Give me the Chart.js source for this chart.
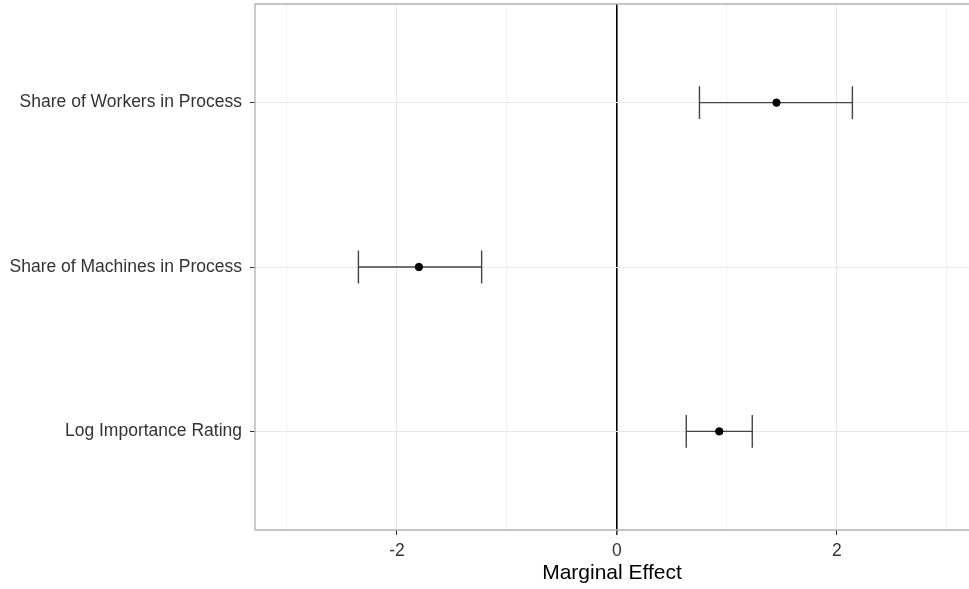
<!DOCTYPE html>
<html>
<head>
<meta charset="utf-8">
<script src="https://cdn.jsdelivr.net/npm/chart.js@4"></script>
<style>
  html, body { margin: 0; padding: 0; background: #fff; }
  #wrap { width: 969px; height: 589px; }
</style>
</head>
<body>
<div id="wrap"><canvas id="effects"></canvas></div>
<script>
const categories = ['Share of Workers in Process', 'Share of Machines in Process', 'Log Importance Rating'];
const positions = [3, 2, 1];
const estimates = [1.45, -1.80, 0.93];
const lower = [0.75, -2.35, 0.63];
const upper = [2.14, -1.23, 1.23];
const xMajorTicks = [-2, 0, 2];
const xMinorTicks = [-3, -1, 1, 3];

const FONT = "'Liberation Sans', Arial, sans-serif";

const errorBars = {
  id: 'errorBars',
  beforeDatasetsDraw(chart) {
    const { ctx, scales: { x, y } } = chart;
    ctx.save();
    ctx.strokeStyle = '#444';
    ctx.lineWidth = 1.4;
    positions.forEach((pos, i) => {
      const py = y.getPixelForValue(pos);
      const cap = Math.abs(y.getPixelForValue(pos + 0.1) - py);
      const x0 = x.getPixelForValue(lower[i]);
      const x1 = x.getPixelForValue(upper[i]);
      ctx.beginPath();
      ctx.moveTo(x0, py); ctx.lineTo(x1, py);
      ctx.moveTo(x0, py - cap); ctx.lineTo(x0, py + cap);
      ctx.moveTo(x1, py - cap); ctx.lineTo(x1, py + cap);
      ctx.stroke();
    });
    ctx.restore();
  },
  afterDraw(chart) {
    // panel border; the right edge runs off the canvas in the original
    const { ctx, chartArea: a } = chart;
    ctx.save();
    ctx.strokeStyle = '#b3b3b3';
    ctx.lineWidth = 1.3;
    ctx.beginPath();
    ctx.moveTo(a.right + 2, a.top);
    ctx.lineTo(a.left, a.top);
    ctx.lineTo(a.left, a.bottom);
    ctx.lineTo(a.right + 2, a.bottom);
    ctx.stroke();
    ctx.restore();
  }
};

new Chart(document.getElementById('effects'), {
  type: 'scatter',
  data: {
    datasets: [{
      data: positions.map((p, i) => ({ x: estimates[i], y: p })),
      backgroundColor: '#000',
      borderColor: '#000',
      pointRadius: 3.7,
      pointHoverRadius: 3.7,
    }],
  },
  options: {
    responsive: true,
    maintainAspectRatio: false,
    animation: false,
    layout: { autoPadding: false, padding: { top: 4, left: 0, right: 0, bottom: 0 } },
    plugins: { legend: { display: false }, tooltip: { enabled: false } },
    scales: {
      x: {
        type: 'linear',
        min: -3.29,
        max: 3.2,
        afterBuildTicks: (s) => {
          s.ticks = [...xMinorTicks, ...xMajorTicks].sort((a, b) => a - b).map((v) => ({ value: v }));
        },
        afterFit: (s) => {
          s.height = 59;
          s.paddingLeft = 0;
          s.paddingRight = 0;
        },
        border: { display: false },
        grid: {
          color: (c) => (c.tick.value === 0 ? '#000' : xMajorTicks.includes(c.tick.value) ? '#e8e8e8' : '#f3f3f3'),
          lineWidth: (c) => (c.tick.value === 0 ? 1.6 : 1),
          tickColor: (c) => (xMajorTicks.includes(c.tick.value) ? '#333' : 'rgba(0,0,0,0)'),
          tickLength: 5,
        },
        ticks: {
          autoSkip: false,
          maxRotation: 0,
          padding: 6,
          color: '#333',
          font: { family: FONT, size: 17.5 },
          callback: (v) => (xMajorTicks.includes(v) ? String(v) : ''),
        },
        title: {
          display: true,
          text: 'Marginal Effect',
          color: '#000',
          font: { family: FONT, size: 21 },
          padding: { top: 0, bottom: 3 },
        },
      },
      y: {
        type: 'linear',
        min: 0.4,
        max: 3.6,
        afterBuildTicks: (s) => {
          s.ticks = positions.map((v) => ({ value: v }));
        },
        afterFit: (s) => {
          s.width = 255;
          s.paddingTop = 0;
          s.paddingBottom = 0;
        },
        border: { display: false },
        grid: {
          color: '#e8e8e8',
          tickColor: '#333',
          tickLength: 5,
        },
        ticks: {
          autoSkip: false,
          padding: 8,
          color: '#333',
          font: { family: FONT, size: 17.5 },
          callback: (v) => categories[positions.indexOf(v)],
        },
      },
    },
  },
  plugins: [errorBars],
});
</script>
</body>
</html>
